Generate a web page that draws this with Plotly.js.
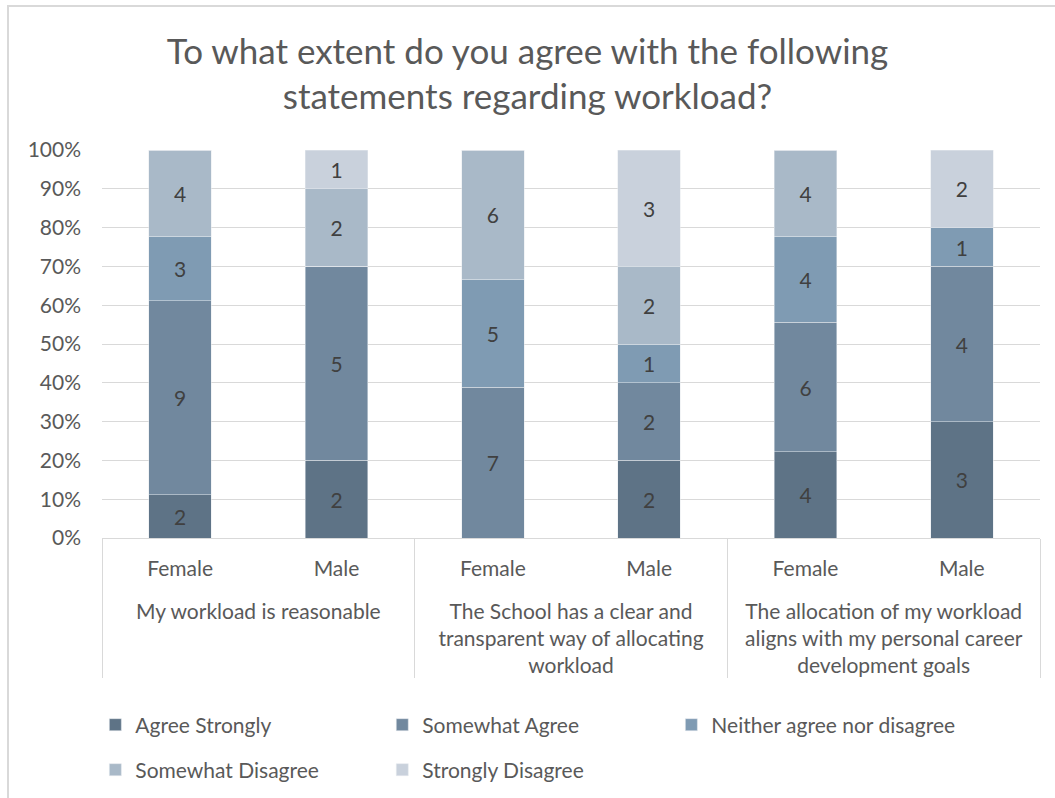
<!DOCTYPE html>
<html>
<head>
<meta charset="utf-8">
<script src="https://cdn.plot.ly/plotly-3.0.1.min.js"></script>
<style>html,body{margin:0;padding:0;background:#fff;}#chart{width:1055px;height:798px;}</style>
</head>
<body>
<div id="chart"></div>
<script>
// Data
const statements = [
  "My workload is reasonable",
  "The School has a clear and<br>transparent way of allocating<br>workload",
  "The allocation of my workload<br>aligns with my personal career<br>development goals"
];
const genders = ["Female", "Male"];
const seriesNames = ["Agree Strongly", "Somewhat Agree", "Neither agree nor disagree", "Somewhat Disagree", "Strongly Disagree"];
// counts per bar: [S1 Female, S1 Male, S2 Female, S2 Male, S3 Female, S3 Male]
const agreeStrongly    = [2, 2, 0, 2, 4, 3];
const somewhatAgree    = [9, 5, 7, 2, 6, 4];
const neither          = [3, 0, 5, 1, 4, 1];
const somewhatDisagree = [4, 2, 6, 2, 4, 0];
const stronglyDisagree = [0, 1, 0, 3, 0, 2];
const colors = ["#5e7386", "#71889e", "#7f9bb3", "#a9b9c8", "#c9d1dc"];

const xGroups = [], xSub = [];
statements.forEach(s => genders.forEach(g => { xGroups.push("<br>" + s); xSub.push(g); }));

const allSeries = [agreeStrongly, somewhatAgree, neither, somewhatDisagree, stronglyDisagree];
const legendIds = ["legend", "legend2", "legend3", "legend4", "legend5"];
const font = "Lato, 'Open Sans', sans-serif";
const traces = allSeries.map((vals, i) => ({
  type: "bar",
  name: seriesNames[i],
  legend: legendIds[i],
  x: [xGroups, xSub],
  y: vals,
  text: vals.map(v => v === 0 ? "" : String(v)),
  textposition: "inside",
  insidetextanchor: "middle",
  textangle: 0,
  constraintext: "none",
  textfont: {family: font, size: 21, color: "#404040"},
  marker: {color: colors[i], line: {width: 0.5, color: "#e6eaee"}},
  hoverinfo: "skip"
}));

function legendAt(x, y) {
  return {
    x: x, y: y, orientation: "h", xanchor: "left", yanchor: "middle",
    font: {family: font, size: 21, color: "#595959"},
    itemwidth: 30, bgcolor: "rgba(0,0,0,0)"
  };
}
const col = [-0.0071, 0.2988, 0.6070];
const row = [-0.482, -0.598];

const layout = {
  width: 1055, height: 798,
  paper_bgcolor: "#ffffff", plot_bgcolor: "#ffffff",
  margin: {l: 102, r: 15, t: 150, b: 260, autoexpand: false},
  barmode: "stack",
  barnorm: "percent",
  bargap: 0.6,
  font: {family: font, color: "#595959", size: 21},
  title: {
    text: "To what extent do you agree with the following<br>statements regarding workload?",
    font: {family: font, size: 35, color: "#595959"},
    x: 0.5, xanchor: "center", yref: "container", y: 0.92, yanchor: "middle"
  },
  xaxis: {
    type: "multicategory", automargin: false,
    showgrid: false,
    showline: true, linecolor: "#d9d9d9", linewidth: 1,
    showdividers: true, dividercolor: "#d9d9d9", dividerwidth: 1,
    ticks: "", ticklabelstandoff: 12,
    tickfont: {family: font, size: 21, color: "#595959"}
  },
  yaxis: {
    range: [0, 100], dtick: 10, ticksuffix: "%", automargin: false,
    showgrid: true, gridcolor: "#d9d9d9", gridwidth: 1,
    zeroline: false, showline: false, ticks: "",
    ticklabelstandoff: 20,
    tickfont: {family: font, size: 21, color: "#595959"}
  },
  legend:  legendAt(col[0], row[0]),
  legend2: legendAt(col[1], row[0]),
  legend3: legendAt(col[2], row[0]),
  legend4: legendAt(col[0], row[1]),
  legend5: legendAt(col[1], row[1]),
  showlegend: true,
  shapes: [{
    type: "rect", xref: "paper", yref: "paper",
    x0: -0.1002, x1: 1.2, y0: -1.0, y1: 1.371,
    line: {color: "#d9d9d9", width: 2}, fillcolor: "rgba(0,0,0,0)", layer: "below"
  }]
};

Plotly.newPlot("chart", traces, layout, {displayModeBar: false, staticPlot: true});
</script>
</body>
</html>
